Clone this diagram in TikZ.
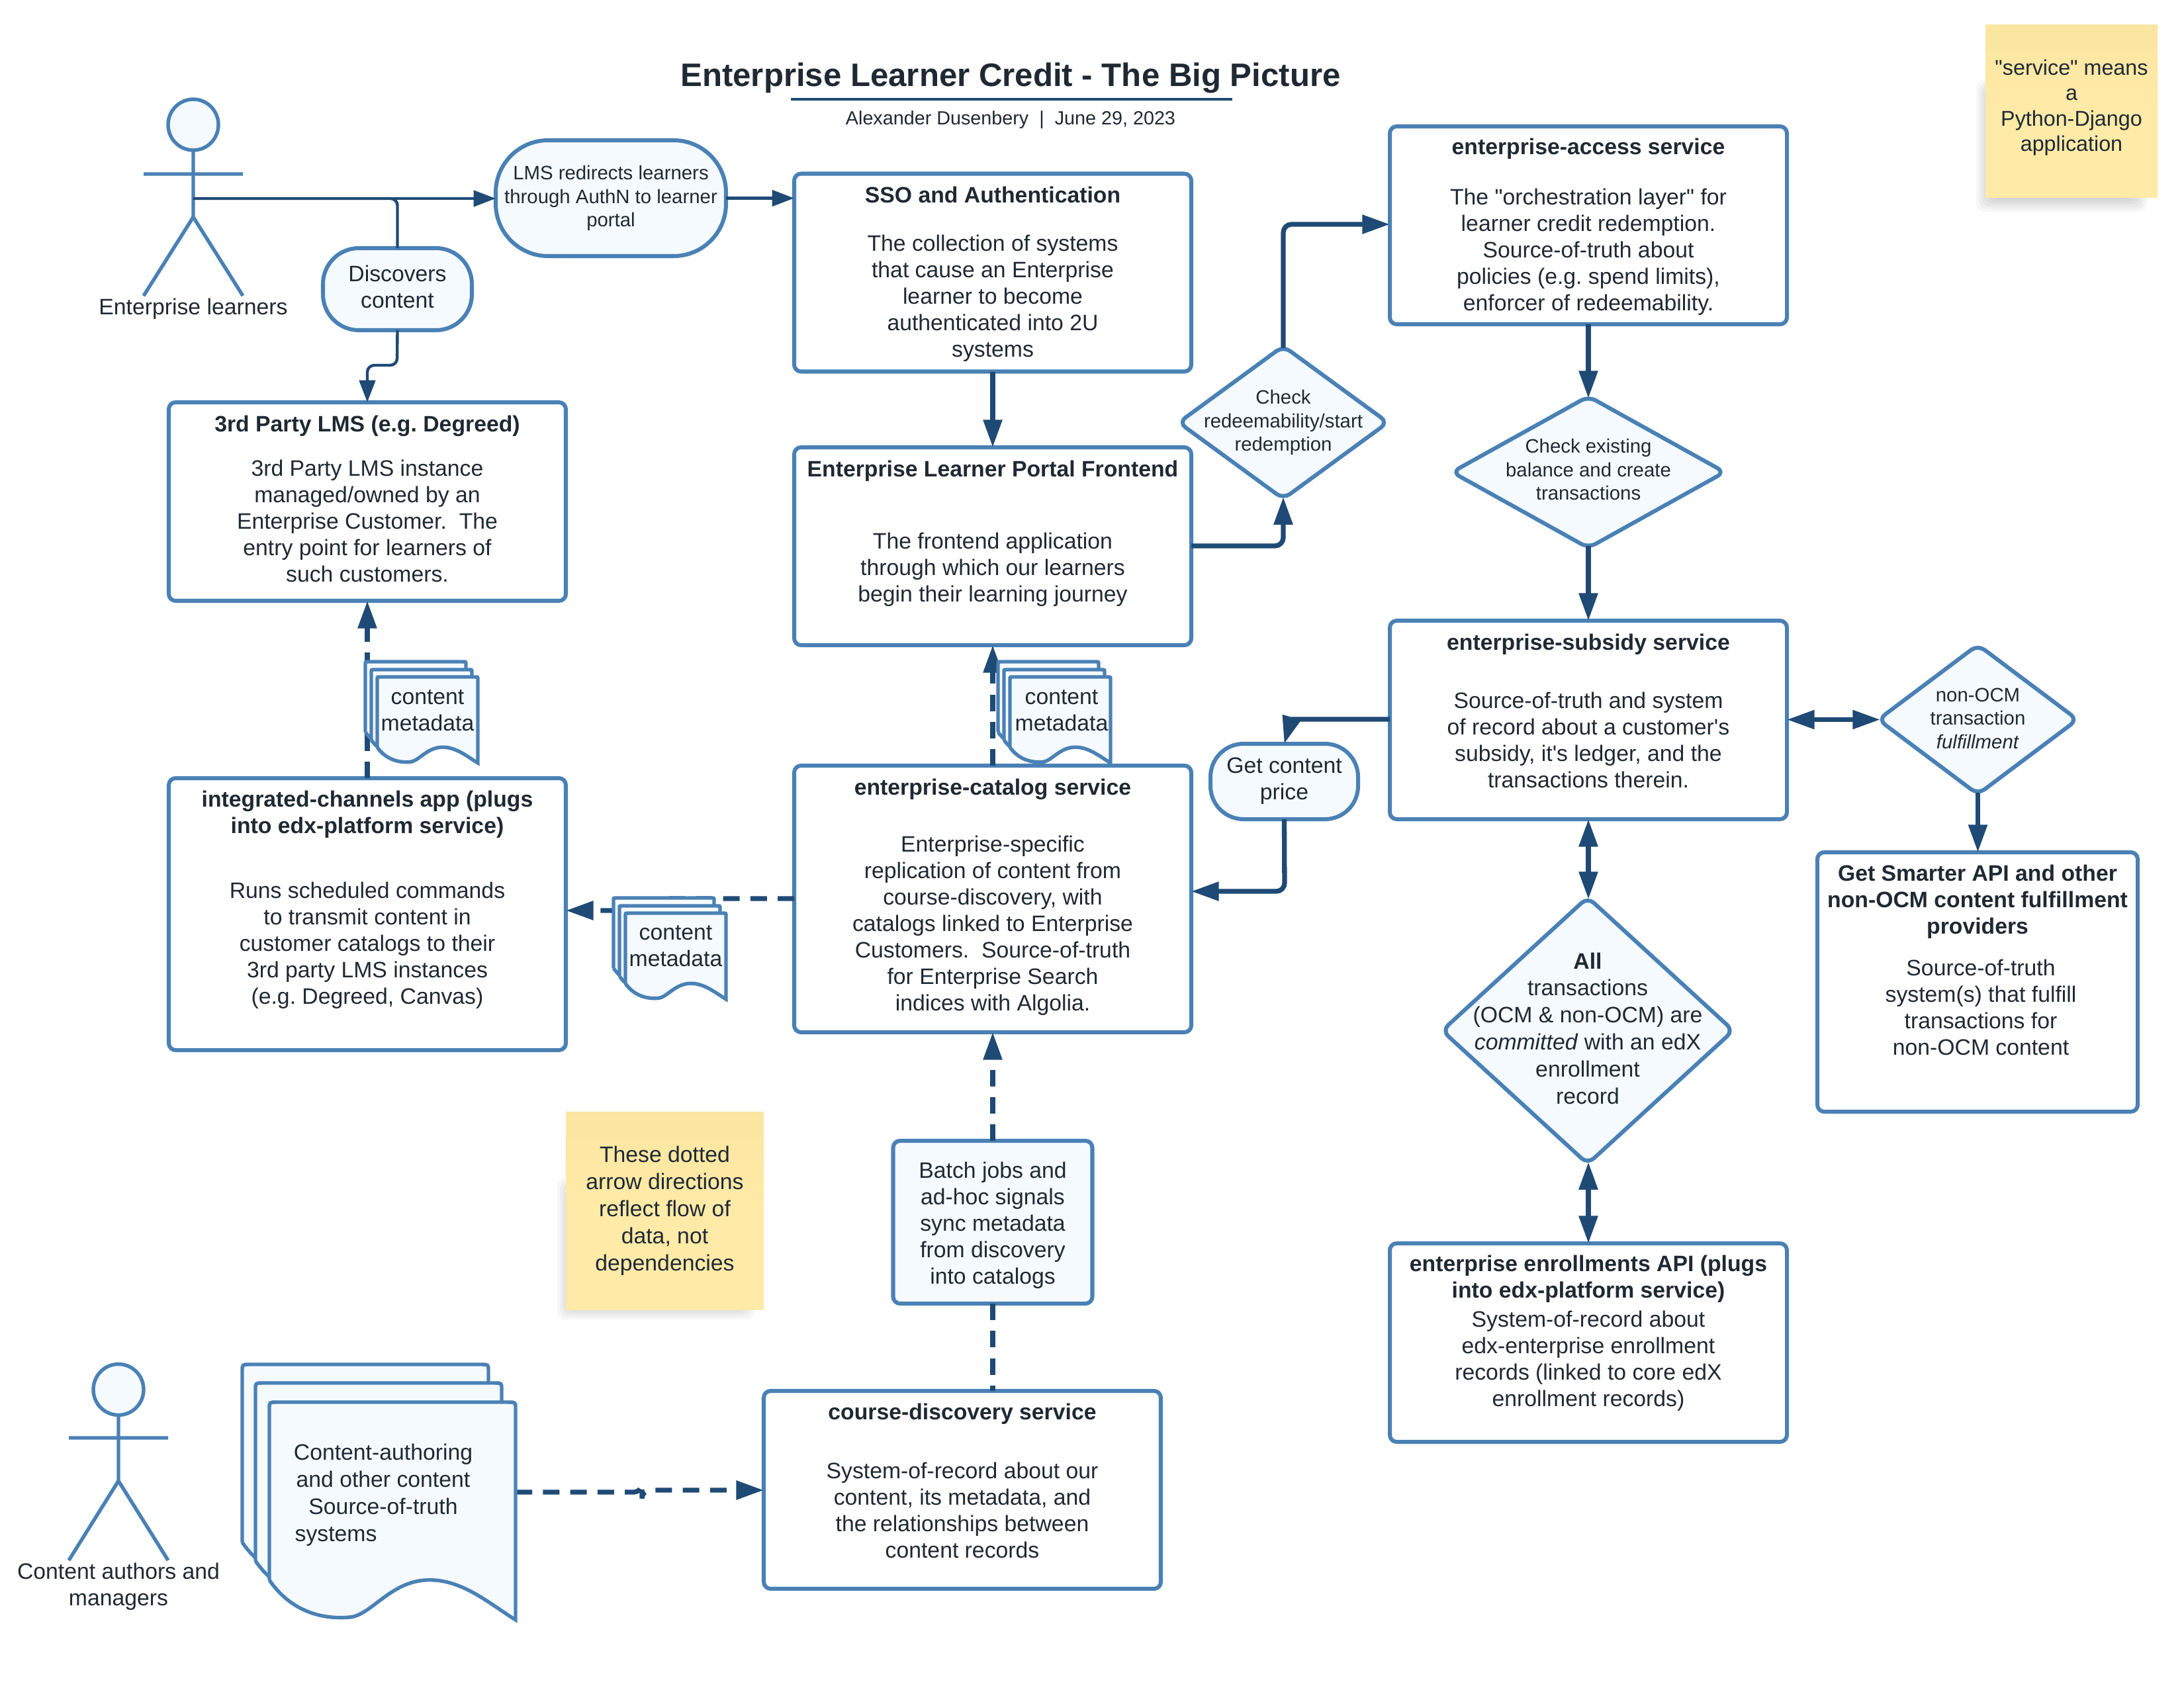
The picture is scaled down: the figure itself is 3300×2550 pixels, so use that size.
\documentclass[tikz,border=0pt]{standalone}
\usepackage{fontspec}
\setmainfont{Liberation Sans}
\newfontfamily\plainfont{Liberation Sans}
\usetikzlibrary{arrows.meta,shapes.geometric}
\definecolor{edgeblue}{HTML}{4A81B5}
\definecolor{linkblue}{HTML}{1F4A75}
\definecolor{palefill}{HTML}{F5FAFF}
\definecolor{inktext}{HTML}{1F2933}
\definecolor{stickytop}{HTML}{FAE5A1}
\definecolor{stickybot}{HTML}{FFEAA7}
\def\U{0.24pt}
\frenchspacing
\newcommand{\docpage}[4]{%
  \begin{scope}[shift={(#1,#2)},xscale=#3,yscale=#4]
    \filldraw[docedge] (0,.818) -- (0,.03) .. controls (0,0) and (0,0) .. (.03,0) -- (.97,0) .. controls (1,0) and (1,0) .. (1,.03) -- (1,1)
      .. controls (.9,.93) and (.8,.83) .. (.675,.818) .. controls (.5,.80) and (.42,.98) .. (.325,.988) .. controls (.2,1.0) and (.08,.95) .. cycle;
  \end{scope}}
\newcommand{\softshadow}[4]{%
  \foreach \g in {0,4,...,20}{\fill[black,opacity=.03,rounded corners=3pt] (#1+\g,#2+\g) rectangle (#3-\g,#4-\g);}}
\tikzset{
  sz/.style 2 args={minimum width=#1*\U,minimum height=#2*\U},
  base/.style={inner sep=0pt,outer sep=0pt,text=inktext,align=center,font=\plainfont\frenchspacing\fontsize{8.1}{9.6}\selectfont},
  box/.style={base,draw=edgeblue,line width=1.45pt,rounded corners=2.5pt,fill=white},
  pill/.style={base,draw=edgeblue,line width=1.45pt,fill=palefill},
  gate/.style={diamond,inner sep=0pt,outer sep=0pt,draw=edgeblue,line width=1.45pt,fill=palefill,rounded corners=3pt},
  note/.style={base,top color=stickytop,bottom color=stickybot,middle color=stickybot},
  label/.style={base},
  smalltext/.style={base,font=\plainfont\fontsize{7.05}{8.5}\selectfont},
  docedge/.style={draw=edgeblue,line width=1.3pt,fill=palefill},
  actor/.style={draw=edgeblue,line width=1.3pt},
  thinlink/.style={draw=linkblue,line width=1.05pt,rounded corners=2.5pt,-{Triangle[length=8pt,width=5.8pt]}},
  thicklink/.style={draw=linkblue,line width=1.75pt,rounded corners=3pt,-{Triangle[length=10pt,width=6.6pt]}},
  twoway/.style={thicklink,{Triangle[length=10pt,width=6.6pt]}-{Triangle[length=10pt,width=6.6pt]}},
  dashlink/.style={thicklink,dash pattern=on 6pt off 3.9pt},
  plainlink/.style={draw=linkblue,line width=1.05pt,rounded corners=2.5pt},
  togate/.style={shorten >=-0.7pt},
  fromgate/.style={shorten <=-0.7pt},
}
\begin{document}
\begin{tikzpicture}[x=0.24pt,y=-0.24pt]
\useasboundingbox (0,0) rectangle (3300,2550);
\fill[white] (0,0) rectangle (3300,2550);

% title
\node[base,font=\plainfont\bfseries\fontsize{11.8}{14}\selectfont] (title) at (1527,118) {Enterprise Learner Credit - The Big Picture};
\node[base,font=\plainfont\fontsize{6.9}{8}\selectfont] (subtitle) at (1527,181) {Alexander Dusenbery\ \ |\ \ June 29, 2023};
\draw[linkblue,line width=.75pt] (1195,150) -- (1862,150);

% stickies
\softshadow{2986}{120}{3245}{320}
\node[note,sz={260}{261},font=\plainfont\fontsize{7.75}{9.2}\selectfont] (sticky1) at (3130,167.5) {"service" means\\a\\Python-Django\\application\\[-5.2pt]\mbox{}};
\softshadow{842}{1780}{1140}{1994}
\node[note,sz={299}{299},align=center] (sticky2) at (1004.5,1829.5) {These dotted\\[.25pt]arrow directions\\[.25pt]reflect flow of\\[.25pt]data, not\\[.25pt]dependencies};

% boxes
\node[box,sz={600}{299}] (sso) at (1500,412) {\rule{0pt}{7pt}\textbf{SSO and Authentication}\\[8pt]The collection of systems\\that cause an Enterprise\\learner to become\\authenticated into 2U\\systems};
\node[box,sz={600}{299}] (portal) at (1500,825.5) {\textbf{Enterprise Learner Portal Frontend}\\[16.6pt]The frontend application\\through which our learners\\begin their learning journey\\[1.4pt]\mbox{}};
\node[box,sz={600}{403}] (catalog) at (1500,1358.5) {\textbf{enterprise-catalog service}\\[11pt]Enterprise-specific\\replication of content from\\course-discovery, with\\catalogs linked to Enterprise\\Customers.\ \ Source-of-truth\\for Enterprise Search\\indices with Algolia.\\[-6.6pt]\mbox{}};
\node[box,sz={600}{300}] (lms) at (555,758) {\textbf{3rd Party LMS (e.g. Degreed)}\\[6.6pt]3rd Party LMS instance\\managed/owned by an\\Enterprise Customer.\ \ The\\entry point for learners of\\such customers.\\[-7.6pt]\mbox{}};
\node[box,sz={600}{411}] (integrated) at (555,1381.5) {\textbf{integrated-channels app (plugs}\\\textbf{into edx-platform service)}\\[14pt]Runs scheduled commands\\to transmit content in\\customer catalogs to their\\3rd party LMS instances\\(e.g. Degreed, Canvas)\\[2.4pt]\mbox{}};
\node[box,sz={600}{299}] (access) at (2400,340.5) {\rule{0pt}{7pt}\textbf{enterprise-access service}\\[8.5pt]The "orchestration layer" for\\learner credit redemption.\\Source-of-truth about\\policies (e.g. spend limits),\\enforcer of redeemability.};
\node[box,sz={600}{300}] (subsidy) at (2400,1088) {\textbf{enterprise-subsidy service}\\[11.6pt]Source-of-truth and system\\of record about a customer's\\subsidy, it's ledger, and the\\transactions therein.\\[-3pt]\mbox{}};
\node[box,sz={600}{300}] (enroll) at (2400,2029) {\textbf{enterprise enrollments API (plugs}\\\textbf{into edx-platform service)}\\[1pt]System-of-record about\\edx-enterprise enrollment\\records (linked to core edX\\enrollment records)\\[-1pt]\mbox{}};
\node[box,sz={484}{392}] (smarter) at (2988,1484) {\textbf{Get Smarter API and other}\\\textbf{non-OCM content fulfillment}\\\textbf{providers}\\[5.6pt]\hspace*{2.4pt}Source-of-truth\\\hspace*{2.4pt}system(s) that fulfill\\\hspace*{2.4pt}transactions for\\\hspace*{2.4pt}non-OCM content\\[6.4pt]\mbox{}};
\node[box,sz={600}{299}] (discovery) at (1454,2251.5) {\textbf{course-discovery service}\\[11.6pt]System-of-record about our\\content, its metadata, and\\the relationships between\\content records\\[-3pt]\mbox{}};
\node[box,sz={301}{246},fill=palefill] (batch) at (1500,1847) {\rule{0pt}{8pt}Batch jobs and\\ad-hoc signals\\sync metadata\\from discovery\\into catalogs};

% pills
\node[pill,sz={348}{175},rounded corners=19pt,smalltext] (redirect) at (923,299.5) {LMS redirects learners\\through AuthN to learner\\portal};
\node[pill,sz={225}{124},rounded corners=13pt] (discovers) at (600.5,437) {Discovers\\content\\[-7.6pt]\mbox{}};
\node[pill,sz={223}{114},rounded corners=12pt] (price) at (1940.5,1181) {Get content\\price\\[-7.6pt]\mbox{}};

% diamonds
\node[gate,sz={316}{231}] (checkred) at (1939,638.5) {};
\node[smalltext] (checkredtext) at (checkred) {Check\\redeemability/start\\redemption};
\node[gate,sz={412}{229}] (checkbal) at (2400,713.5) {};
\node[smalltext] (checkbaltext) at (2400,709.5) {Check existing\\balance and create\\transactions};
\node[gate,sz={301}{226}] (nonocm) at (2988.5,1087.5) {};
\node[smalltext] (nonocmtext) at (2988.5,1085.5) {non-OCM\\transaction\\\textit{fulfillment}};
\node[gate,sz={440}{403}] (committed) at (2399,1557.5) {};
\node[base] (committedtext) at (2399,1554) {\textbf{All}\\[.2pt]transactions\\[.2pt](OCM \& non-OCM) are\\[.2pt]\textit{committed} with an edX\\[.2pt]enrollment\\[.2pt]record};

% actors
\node[ellipse,inner sep=0pt,outer sep=0pt,draw=edgeblue,line width=1.3pt,fill=palefill,sz={76}{77}] (head1) at (292,188.5) {};
\coordinate (hip1) at (292,328);
\coordinate (hub1) at (292,300);
\draw[actor] (head1.south) -- (hip1) -- (217,447) (hip1) -- (367,447) (217,263) -- (367,263);
\node[label] (actor1) at (292,467) {Enterprise learners};
\node[ellipse,inner sep=0pt,outer sep=0pt,draw=edgeblue,line width=1.3pt,fill=palefill,sz={76}{77}] (head2) at (179,2100) {};
\coordinate (hip2) at (179,2238);
\draw[actor] (head2.south) -- (hip2) -- (104,2358) (hip2) -- (254,2358) (104,2173) -- (254,2173);
\node[label] (actor2) at (179,2398) {Content authors and\\managers};

% connectors
\draw[thinlink] (hub1) -- (redirect.west |- hub1);
\draw[thinlink] (redirect.east) -- (sso.west |- redirect.east);
\draw[plainlink] (hub1) -| (discovers.north);
\draw[thinlink] (discovers.south) -- (600,552) -- (555,552) -- (lms.north);
\draw[thicklink] (sso.south) -- (portal.north);
\draw[thicklink,togate] (portal.east |- 0,825) -- (1939,825) -- (checkred.south);
\draw[thicklink,fromgate] (checkred.north) -- (1939,339) -- (access.west |- 0,339);
\draw[thicklink,togate] (access.south) -- (checkbal.north);
\draw[thicklink,fromgate] (checkbal.south) -- (subsidy.north);
\draw[twoway,togate] (subsidy.east |- nonocm.west) -- (nonocm.west);
\draw[thicklink,fromgate] (nonocm.south) -- (smarter.north -| nonocm.south);
\draw[twoway,togate] (subsidy.south) -- (committed.north -| subsidy.south);
\draw[twoway,fromgate] (committed.south -| enroll.north) -- (enroll.north);
\draw[thicklink,rounded corners=0pt] (subsidy.west |- 0,1087) -- (1951,1087) -- (price.north);
\draw[thicklink] (price.south) -- (1941,1347) -- (catalog.east |- 0,1347);
\draw[dashlink] (catalog.north) -- (portal.south);
\draw[dashlink] (integrated.north) -- (lms.south);
\draw[dashlink] (catalog.west |- 0,1358) -- (1000,1358) -- (1000,1376) -- (integrated.east |- 0,1376);
\draw[dashlink] (batch.north) -- (catalog.south);
\draw[dashlink,-] (batch.south) -- (batch.south |- discovery.north);
\coordinate (bigdocE) at (779,2255);
\draw[dashlink] (bigdocE) -- (970,2255) -- (970,2252) -- (discovery.west |- 0,2252);

% document stacks
\docpage{552}{1000}{152}{130}\docpage{561}{1012}{152}{130}\docpage{570}{1023}{152}{130}
\node[base] (meta1) at (646,1074) {content\\metadata};
\docpage{1508}{1000}{152}{130}\docpage{1517}{1012}{152}{130}\docpage{1526}{1023}{152}{130}
\node[base] (meta2) at (1604,1074) {content\\metadata};
\docpage{927}{1357}{152}{130}\docpage{936}{1369}{152}{130}\docpage{945}{1380}{152}{130}
\node[base] (meta3) at (1021,1430) {content\\metadata};
\docpage{366}{2062}{372}{329}\docpage{386}{2090}{372}{329}\docpage{407}{2119}{372}{329}
\node[base] (bigdoc) at (579,2259) {Content-authoring\\[.2pt]and other content\\[.2pt]Source-of-truth\\[.2pt]\makebox[64pt][l]{systems}};
\end{tikzpicture}
\end{document}
